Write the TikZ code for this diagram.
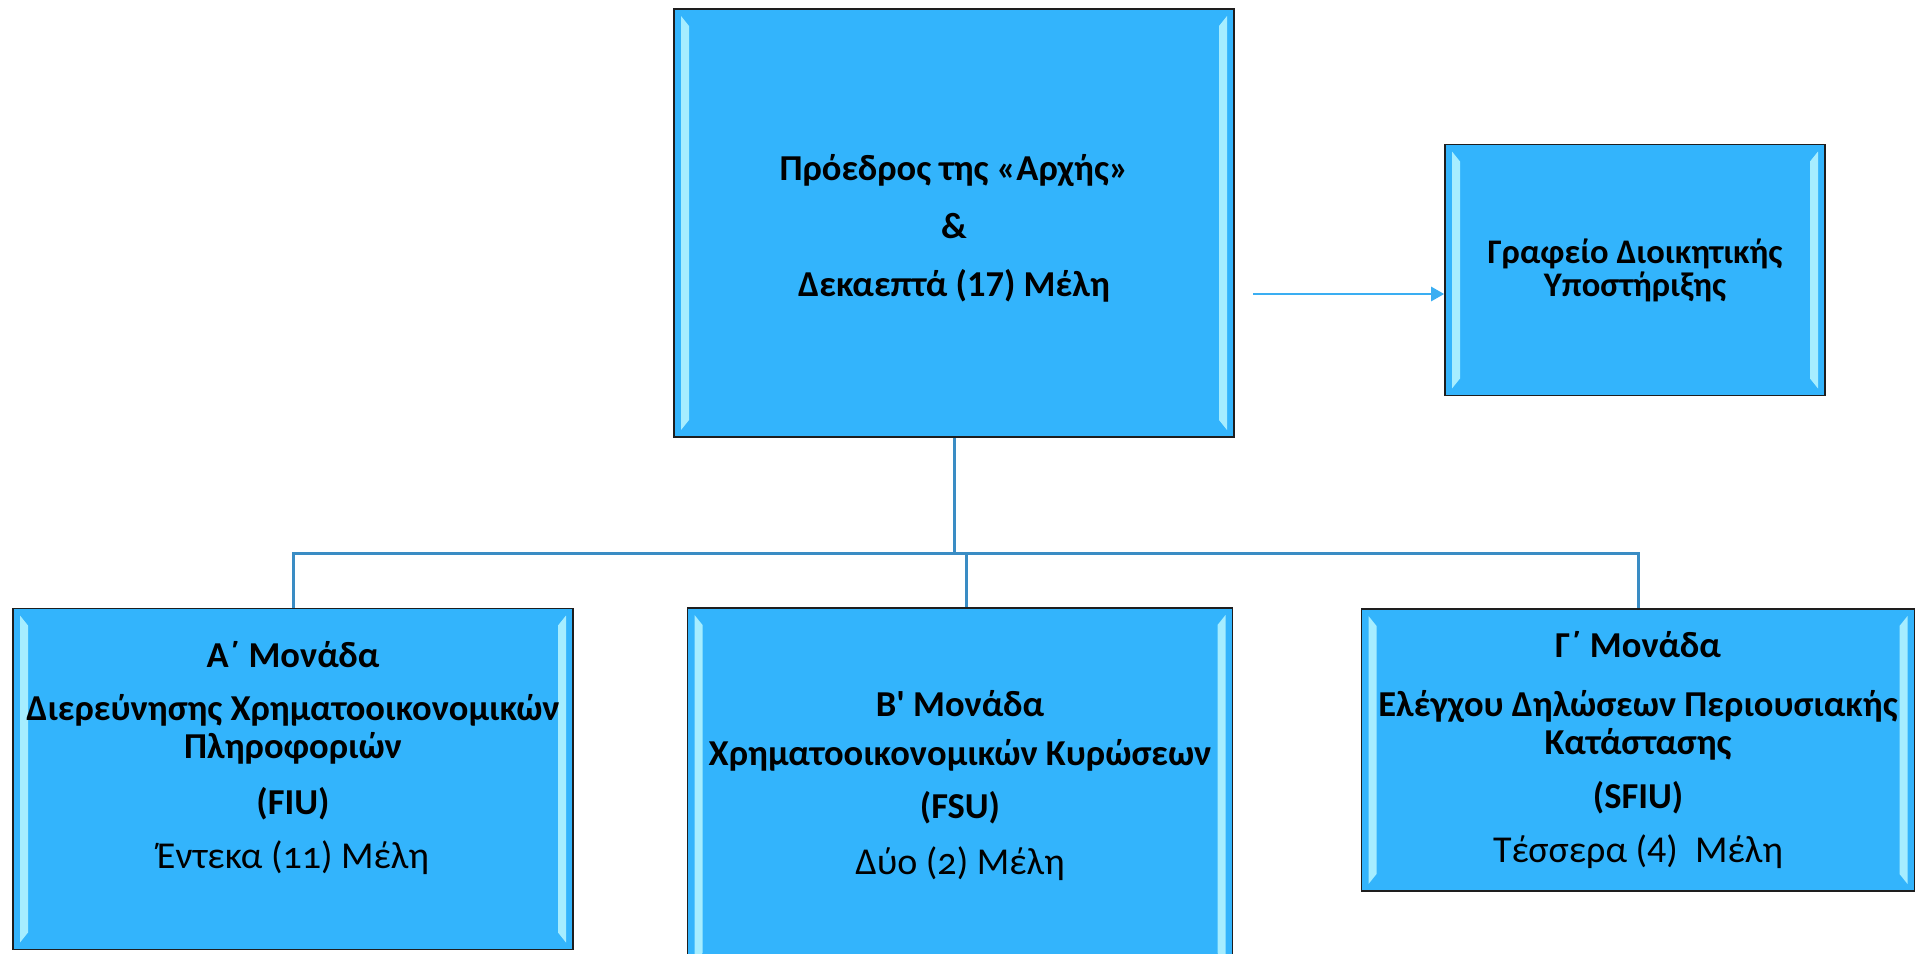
\documentclass[tikz,border=0pt]{standalone}
\usepackage{fontspec}
\setmainfont{Carlito}
\usetikzlibrary{arrows.meta}

\definecolor{boxblue}{HTML}{33B4FC}
\definecolor{bevellight}{HTML}{A6EDFF}
\definecolor{boxline}{HTML}{1E1E1E}
\definecolor{treeline}{HTML}{3A8CC4}
\definecolor{arrowblue}{HTML}{3AAEF2}

\newcommand{\oldnum}[1]{{\addfontfeature{Numbers=OldStyle}#1}}
\newcommand{\memberfont}{\mdseries\fontsize{38}{38}\selectfont}

\tikzset{
  bevel/.style={path picture={
      \fill[bevellight] ([shift={(7pt,-7pt)}]path picture bounding box.north west)
        -- ([shift={(15pt,-17pt)}]path picture bounding box.north west)
        -- ([shift={(15pt,17pt)}]path picture bounding box.south west)
        -- ([shift={(7pt,7pt)}]path picture bounding box.south west) -- cycle;
      \fill[bevellight] ([shift={(-7pt,-7pt)}]path picture bounding box.north east)
        -- ([shift={(-15pt,-17pt)}]path picture bounding box.north east)
        -- ([shift={(-15pt,17pt)}]path picture bounding box.south east)
        -- ([shift={(-7pt,7pt)}]path picture bounding box.south east) -- cycle;
    }},
}

\begin{document}
\begin{tikzpicture}[x=1pt,y=-1pt,
    unit/.style={draw=boxline,line width=1.6pt,fill=boxblue,bevel,inner sep=0pt},
    title/.style={align=center,inner sep=0pt,font=\bfseries\fontsize{36.5}{38}\selectfont},
    small title/.style={align=center,inner sep=0pt,font=\bfseries\fontsize{34.5}{33}\selectfont},
    tree/.style={draw=treeline,line width=3pt},
    link/.style={draw=arrowblue,line width=2.5pt,-{Triangle[length=13pt,width=14pt]}}]

  \useasboundingbox (0,0) rectangle (1919,953);

  % boxes
  \node[unit,minimum width=560pt,minimum height=428pt] (pres) at (954,223) {};
  \node[unit,minimum width=380pt,minimum height=251pt] (office) at (1635,270) {};
  \node[unit,minimum width=560pt,minimum height=341pt] (fiu) at (293,779) {};
  \node[unit,minimum width=545pt,minimum height=362pt] (fsu) at (960,789) {};
  \node[unit,minimum width=553pt,minimum height=282pt] (sfiu) at (1638,750) {};

  % texts
  \node[title] (prestext) at ([yshift=-5pt]pres.center) {Πρόεδρος της «Αρχής»\\[20pt] \&\\[20pt] Δεκαεπτά (17) Μέλη};
  \node[small title] (officetext) at (office.center) {Γραφείο Διοικητικής\\Υποστήριξης};
  \node[title] (fiutext) at (293,758) {Α΄ Μονάδα\\[15pt] Διερεύνησης Χρηματοοικονομικών\\Πληροφοριών\\[18pt] (FIU)\\[16pt] \memberfont Έντεκα (\oldnum{11}) Μέλη};
  \node[title] (fsutext) at (960,786) {Β\textquotesingle{} Μονάδα\\[11pt] Χρηματοοικονομικών Κυρώσεων\\[15pt] (FSU)\\[18pt] \memberfont Δύο (\oldnum{2}) Μέλη};
  \node[title] (sfiutext) at (1638,750) {Γ΄ Μονάδα\\[21pt] Ελέγχου Δηλώσεων Περιουσιακής\\Κατάστασης\\[16pt] (SFIU)\\[16pt] \memberfont Τέσσερα (4)~ Μέλη};

  % connectors
  \coordinate (split) at (954,553);
  \coordinate (linkstart) at (1253,294);
  \draw[tree] (pres.south) -- (split);
  \draw[tree] (fiu.north) |- (split) -| (sfiu.north);
  \draw[tree] ([xshift=6pt]fsu.north) -- ([xshift=6pt]fsu.north |- split);
  \draw[link] (linkstart) -- (linkstart -| office.west);
\end{tikzpicture}
\end{document}
